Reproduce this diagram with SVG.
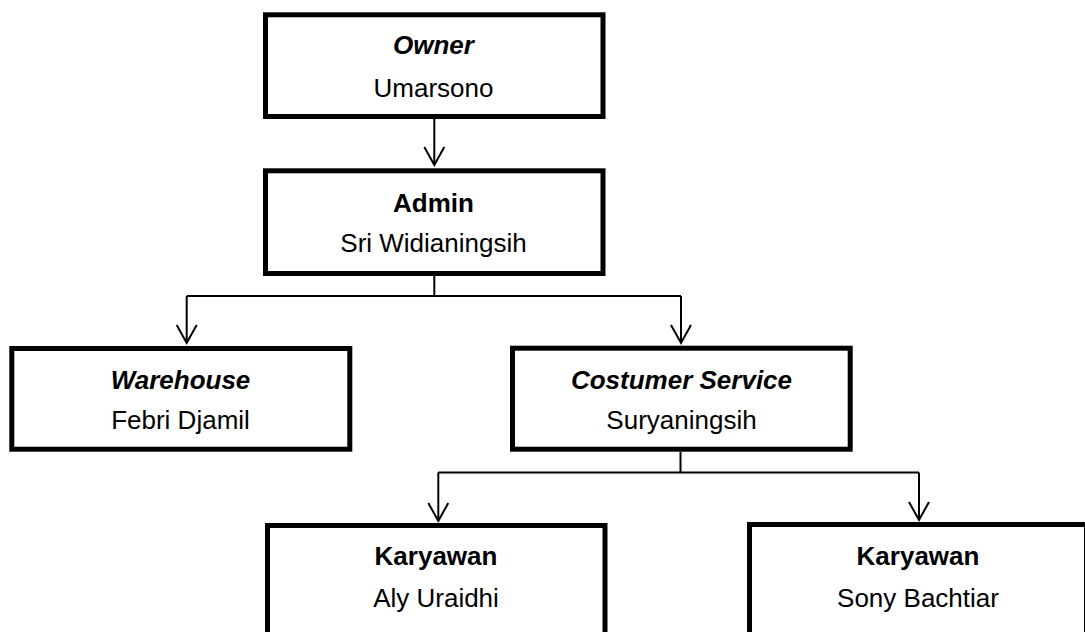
<svg xmlns="http://www.w3.org/2000/svg" width="1085" height="632" viewBox="0 0 1085 632">
  <style>
    .box { fill: #ffffff; stroke: #000000; stroke-width: 5; }
    .conn { fill: none; stroke: #000000; stroke-width: 2; }
    text { font-family: "Liberation Sans", Arial, sans-serif; font-size: 26px; fill: #000000; text-anchor: middle; }
    .title { font-weight: bold; }
    .ital { font-style: italic; }
  </style>
  <defs>
    <marker id="arrow" markerUnits="userSpaceOnUse" orient="auto" refX="0" refY="0" markerWidth="20" markerHeight="24" overflow="visible">
      <path d="M-18,-10 L0,0 L-18,10" fill="none" stroke="#000000" stroke-width="2"/>
    </marker>
  </defs>
  <rect width="1085" height="632" fill="#ffffff"/>

  <g id="connectors">
    <path class="conn" d="M434.3,119 L434.3,165" marker-end="url(#arrow)"/>
    <path class="conn" d="M434.3,276 L434.3,296"/>
    <path class="conn" d="M186.7,296 L681,296"/>
    <path class="conn" d="M186.7,296 L186.7,343" marker-end="url(#arrow)"/>
    <path class="conn" d="M681,296 L681,343" marker-end="url(#arrow)"/>
    <path class="conn" d="M680.5,452 L680.5,472.5"/>
    <path class="conn" d="M438.3,472.5 L919,472.5"/>
    <path class="conn" d="M438.3,472.5 L438.3,521" marker-end="url(#arrow)"/>
    <path class="conn" d="M919,472.5 L919,520" marker-end="url(#arrow)"/>
  </g>

  <g id="owner">
    <rect class="box" x="265.5" y="14.8" width="337.5" height="101.7"/>
    <text class="title ital" x="433.5" y="54">Owner</text>
    <text x="433.5" y="96.5">Umarsono</text>
  </g>

  <g id="admin">
    <rect class="box" x="265.5" y="170.8" width="337.5" height="102.7"/>
    <text class="title" x="433.5" y="211.5">Admin</text>
    <text x="433.5" y="251.5">Sri Widianingsih</text>
  </g>

  <g id="warehouse">
    <rect class="box" x="11.8" y="348.5" width="338" height="100.7"/>
    <text class="title ital" x="180.5" y="388.5">Warehouse</text>
    <text x="180.5" y="428.5">Febri Djamil</text>
  </g>

  <g id="costumer-service">
    <rect class="box" x="512.5" y="348.2" width="337.7" height="101"/>
    <text class="title ital" x="681.5" y="389">Costumer Service</text>
    <text x="681.5" y="429.3">Suryaningsih</text>
  </g>

  <g id="karyawan-1">
    <rect class="box" x="267.5" y="525.5" width="337.5" height="120"/>
    <text class="title" x="436" y="565">Karyawan</text>
    <text x="436" y="607">Aly Uraidhi</text>
  </g>

  <g id="karyawan-2">
    <rect class="box" x="749.5" y="524.5" width="337" height="120"/>
    <text class="title" x="918" y="565">Karyawan</text>
    <text x="918" y="607">Sony Bachtiar</text>
  </g>
</svg>
